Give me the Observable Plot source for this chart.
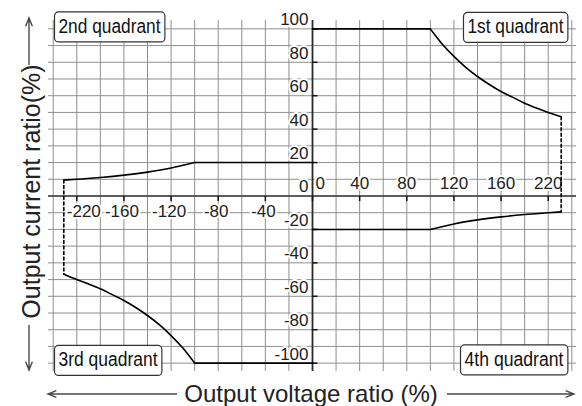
<!DOCTYPE html>
<html><head><meta charset="utf-8">
<script src="https://cdn.jsdelivr.net/npm/d3@7"></script>
<script src="https://cdn.jsdelivr.net/npm/@observablehq/plot@0.6"></script>
<style>body{margin:0;background:#fff;}</style>
</head><body><div id="chart"></div>
<script>
// ---- data ----
const q1Flat  = [{v:0,i:100},{v:100,i:100}];
const q1Curve = [{v:100,i:100},{v:110,i:91},{v:120,i:83.5},{v:130,i:77},{v:140,i:71.5},{v:150,i:66.7},{v:160,i:62.5},{v:170,i:59},{v:180,i:55.5},{v:190,i:52.6},{v:200,i:50},{v:211,i:47.4}];
const q4Flat  = [{v:0,i:-20},{v:100,i:-20}];
const q4Curve = [{v:100,i:-20},{v:120,i:-16.7},{v:140,i:-14.3},{v:160,i:-12.5},{v:180,i:-11.1},{v:200,i:-10},{v:211,i:-9.5}];
const q2Flat  = [{v:0,i:20},{v:-100,i:20}];
const q2Curve = [{v:-100,i:20},{v:-120,i:16.7},{v:-140,i:14.3},{v:-160,i:12.5},{v:-180,i:11.1},{v:-200,i:10},{v:-211,i:9.6}];
const q3Flat  = [{v:0,i:-100},{v:-100,i:-100}];
const q3Curve = [{v:-100,i:-100},{v:-110,i:-91},{v:-120,i:-83.5},{v:-130,i:-77},{v:-140,i:-71.5},{v:-150,i:-66.7},{v:-160,i:-62.5},{v:-170,i:-59},{v:-180,i:-55.5},{v:-190,i:-52.6},{v:-200,i:-50},{v:-211,i:-46.8}];
const dashRight = [{v:211,i:47.4},{v:211,i:-9.5}];
const dashLeft  = [{v:-211,i:9.6},{v:-211,i:-46.8}];

const xTicksPos = [0,40,80,120,160,200];
const xLabelsPos = ["0","40","80","120","160","220"];
const xTicksNeg = [-200,-160,-120,-80,-40];
const xLabelsNeg = ["-220","-160","-120","-80","-40"];
const yTicks = [100,80,60,40,20,0,-20,-40,-60,-80,-100];
const yLabels = ["100","80","60","40","20","0","-20","-40","-60","-80","-100"];
const xGrid = d3.range(-220, 221, 20);
const yGrid = d3.range(-100, 101, 10);

const quadrants = ["2nd quadrant","1st quadrant","3rd quadrant","4th quadrant"];
const xTitle = "Output voltage ratio (%)";
const yTitle = "Output current ratio(%)";

// ---- chart ----
const tickDown = {draw(c){ c.moveTo(0,0); c.lineTo(0,5); }};
const tickRight = {draw(c){ c.moveTo(0,0); c.lineTo(5,0); }};
const lbl = {fontSize: 17, fill: "#222", stroke: "white", strokeWidth: 4, paintOrder: "stroke"};
const lineStyle = {x: "v", y: "i", stroke: "black", strokeWidth: 1.6};
const quadStyle = {lineAnchor: "middle", fontSize: 20, fill: "#111"};

const chart = Plot.plot({
  width: 582, height: 406,
  marginLeft: 48, marginRight: 6, marginTop: 20, marginBottom: 35,
  x: {domain: [-224, 224], axis: null},
  y: {domain: [-105, 105], axis: null},
  style: {fontFamily: "'Liberation Sans', Arial, sans-serif", background: "white", overflow: "visible"},
  marks: [
    Plot.gridX(xGrid, {stroke: "#8f8f8f", strokeOpacity: 1, strokeWidth: 1}),
    Plot.gridY(yGrid, {stroke: "#8f8f8f", strokeOpacity: 1, strokeWidth: 1}),
    Plot.text(yTicks, {x: 0, y: d => d, text: (d, k) => yLabels[k], textAnchor: "end", lineAnchor: "middle", dx: -4, dy: -9, ...lbl}),
    Plot.text(xTicksPos.slice(1), {x: d => d, y: 0, text: (d, k) => xLabelsPos[k + 1], lineAnchor: "middle", dy: -12, ...lbl}),
    Plot.text(xTicksPos.slice(0, 1), {x: d => d, y: 0, text: () => xLabelsPos[0], textAnchor: "start", lineAnchor: "middle", dx: 3, dy: -12, ...lbl}),
    Plot.text(xTicksNeg.slice(1), {x: d => d, y: 0, text: (d, k) => xLabelsNeg[k + 1], lineAnchor: "middle", dx: -2, dy: 16, ...lbl}),
    Plot.text(xTicksNeg.slice(0, 1), {x: d => d, y: 0, text: () => xLabelsNeg[0], lineAnchor: "middle", dx: 7, dy: 16, ...lbl}),
    Plot.ruleY([0], {stroke: "#3a3a3a", strokeWidth: 1.3}),
    Plot.ruleX([0], {stroke: "#2a2a2a", strokeWidth: 1.8}),
    Plot.dot([...xTicksPos, ...xTicksNeg], {x: d => d, y: 0, symbol: tickDown, stroke: "#111", strokeWidth: 1.5, fill: "none"}),
    Plot.dot(yTicks.filter(d => d !== 0), {x: 0, y: d => d, symbol: tickRight, stroke: "#111", strokeWidth: 1.5, fill: "none"}),
    Plot.line(q1Flat, lineStyle),
    Plot.line(q1Curve, {...lineStyle, curve: "monotone-x"}),
    Plot.line(q2Flat, lineStyle),
    Plot.line(q2Curve, {...lineStyle, curve: "monotone-x"}),
    Plot.line(q3Flat, lineStyle),
    Plot.line(q3Curve, {...lineStyle, curve: "monotone-x"}),
    Plot.line(q4Flat, lineStyle),
    Plot.line(q4Curve, {...lineStyle, curve: "monotone-x"}),
    Plot.line(dashRight, {x: "v", y: "i", stroke: "black", strokeWidth: 1.6, strokeDasharray: "3,2.5"}),
    Plot.line(dashLeft, {x: "v", y: "i", stroke: "black", strokeWidth: 1.6, strokeDasharray: "3,2.5"}),
    Plot.text([quadrants[0]], {frameAnchor: "top-left", textAnchor: "start", dx: 10, dy: 6, className: "quad q102", ...quadStyle}),
    Plot.text([quadrants[1]], {frameAnchor: "top-right", textAnchor: "end", dx: -13, dy: 6.5, className: "quad q96", ...quadStyle}),
    Plot.text([quadrants[2]], {frameAnchor: "bottom-left", textAnchor: "start", dx: 10, dy: -11.5, className: "quad q99", ...quadStyle}),
    Plot.text([quadrants[3]], {frameAnchor: "bottom-right", textAnchor: "end", dx: -13, dy: -12, className: "quad q99", ...quadStyle})
  ]
});
document.getElementById("chart").appendChild(chart);

// ---- condensed quadrant labels with rounded boxes ----
const svg = d3.select(chart);
svg.selectAll("g.quad").each(function() {
  const g = d3.select(this);
  const w = +this.getAttribute("class").match(/q(\d+)/)[1];
  g.selectAll("text").attr("textLength", w).attr("lengthAdjust", "spacingAndGlyphs");
  const b = this.getBBox();
  const cy = b.y + b.height / 2 + 1;
  g.insert("rect", ":first-child")
    .attr("x", b.x - 4).attr("y", cy - 15)
    .attr("width", b.width + 8).attr("height", 30)
    .attr("rx", 4).attr("fill", "white").attr("stroke", "#333").attr("stroke-width", 1.2);
});

// ---- axis titles with arrows ----
const ann = svg.append("g").attr("fill", "none").attr("stroke", "#4a4a4a").attr("stroke-width", 1.4);
function arrow(x1, y1, x2, y2) {
  const a = Math.atan2(y2 - y1, x2 - x1), L = 9, w = 0.38;
  ann.append("path").attr("d",
    `M${x1},${y1}L${x2},${y2}M${x2 - L*Math.cos(a - w)},${y2 - L*Math.sin(a - w)}L${x2},${y2}L${x2 - L*Math.cos(a + w)},${y2 - L*Math.sin(a + w)}`);
}
arrow(177, 394, 48, 394);
arrow(447, 394, 574, 394);
arrow(29, 65, 29, 18);
arrow(29, 325, 29, 370);
svg.append("text").attr("x", 311).attr("y", 401.5).attr("text-anchor", "middle")
  .attr("font-size", 24).attr("fill", "#222").text(xTitle);
svg.append("text").attr("transform", "translate(40,191.5) rotate(-90)").attr("text-anchor", "middle")
  .attr("font-size", 25).attr("fill", "#222").text(yTitle);
</script></body></html>
